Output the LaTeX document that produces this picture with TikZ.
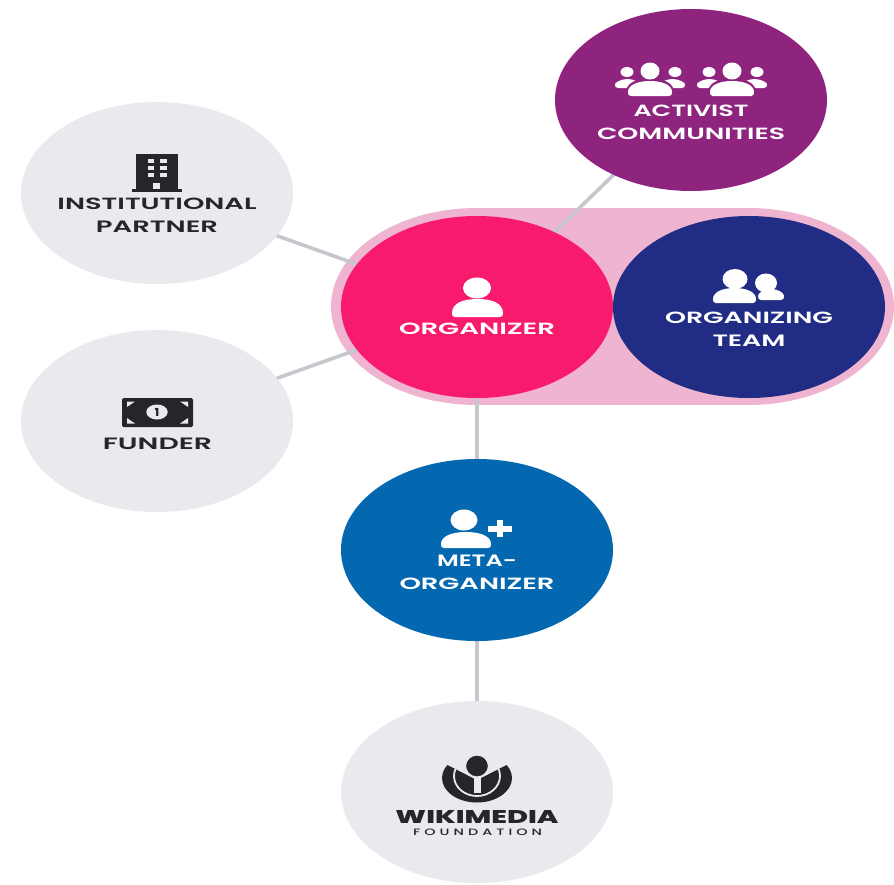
\documentclass[tikz,border=0pt]{standalone}
\usepackage{fontspec}
\setmainfont{Poppins}[BoldFont={Poppins SemiBold}]
\newfontfamily\spacedfont[LetterSpace=28]{Poppins Medium}
\newfontfamily\heavyfont{Poppins ExtraBold}
\usetikzlibrary{shapes.geometric}
\definecolor{pillpink}{HTML}{EFB4CF}
\definecolor{orgred}{HTML}{F81B6D}
\definecolor{teamblue}{HTML}{212D85}
\definecolor{purp}{HTML}{8F247F}
\definecolor{metablue}{HTML}{0468B0}
\definecolor{softgray}{HTML}{E9EAED}
\definecolor{linegray}{HTML}{C5C7CD}
\definecolor{inkdark}{HTML}{25262A}
\newcommand{\lbl}[2]{\resizebox{#1pt}{11.5pt}{\bfseries #2}}
\newcommand{\ibody}[5]{\fill[#5] ({#1+3},#4) .. controls ({#1+0.5},#4) and (#1,{#4-1.5}) .. (#1,{#4-4})
  .. controls (#1,{#3+4}) and ({#1+0.22*(#2-#1)},#3) .. ({(#1+#2)/2},#3)
  .. controls ({#2-0.22*(#2-#1)},#3) and (#2,{#3+4}) .. (#2,{#4-4})
  .. controls (#2,{#4-1.5}) and ({#2-0.5},#4) .. ({#2-3},#4) -- cycle;}
\newcommand{\ihead}[5]{\fill[#5] (#1,#2) ellipse [x radius=#3pt, y radius=#4pt];}
\tikzset{
  bubble/.style={ellipse,minimum width=272pt,minimum height=182pt,inner sep=0pt,draw=none},
  link/.style={draw=linegray,line width=3.6pt},
  lightlabel/.style={align=center,inner sep=0pt,text=white,font=\fontsize{11}{23}\selectfont},
  darklabel/.style={align=center,inner sep=0pt,text=inkdark,font=\fontsize{11}{23}\selectfont}
}
\begin{document}
\begin{tikzpicture}[x=1pt,y=-1pt]
\useasboundingbox (0,0) rectangle (894,884);
\fill[white] (0,0) rectangle (894,884);
% pill behind organizer and team
\fill[pillpink] (477,306.5) ellipse [x radius=146pt, y radius=98.5pt];
\fill[pillpink] (748,306.5) ellipse [x radius=146pt, y radius=98.5pt];
\fill[pillpink] (477,208) rectangle (748,405);
% named positions of the bubbles
\coordinate (cOrg) at (477,307);
\coordinate (cTeam) at (749,307);
\coordinate (cAct) at (691,100);
\coordinate (cInst) at (157,193);
\coordinate (cFund) at (157,421);
\coordinate (cMeta) at (477,550);
\coordinate (cWiki) at (477,792);
% connectors (bubbles are painted over their inner ends)
\draw[link] (cInst) -- (cOrg);
\draw[link] (cFund) -- (cOrg);
\draw[link] (cAct) -- (cOrg);
\draw[link] (cOrg) -- (cMeta);
\draw[link] (cMeta) -- (cWiki);
% bubbles
\node[bubble,fill=orgred] (org) at (cOrg) {};
\node[bubble,fill=teamblue] (team) at (cTeam) {};
\node[bubble,fill=purp] (act) at (cAct) {};
\node[bubble,fill=softgray] (inst) at (cInst) {};
\node[bubble,fill=softgray] (fund) at (cFund) {};
\node[bubble,fill=metablue] (meta) at (cMeta) {};
\node[bubble,fill=softgray] (wiki) at (cWiki) {};
% labels
\node[lightlabel] (tOrg) at (477,329) {\lbl{156}{ORGANIZER}};
\node[lightlabel] (tTeam) at (749,329.5) {\lbl{168}{ORGANIZING}\\\lbl{73}{TEAM}};
\node[lightlabel] (tAct) at (691,122.5) {\lbl{115}{ACTIVIST}\\\lbl{188}{COMMUNITIES}};
\node[darklabel] (tInst) at (157,215.5) {\lbl{199}{INSTITUTIONAL}\\\lbl{122}{PARTNER}};
\node[darklabel] (tFund) at (157.5,444) {\lbl{109}{FUNDER}};
\node[lightlabel] (tMeta) at (477,572.5) {\lbl{80}{META-}\\\lbl{155}{ORGANIZER}};
\node[inner sep=0pt,text=inkdark] (tWiki) at (477,816.5) {\resizebox{163pt}{13pt}{\heavyfont WIKIMEDIA}};
\node[inner sep=0pt,text=inkdark] (tFound) at (477.5,832.5) {\resizebox{129pt}{6.5pt}{\spacedfont FOUNDATION}};
% organizer icon
\ihead{477}{288}{14}{10.5}{white}
\ibody{452}{503}{299}{317}{white}
% team icon
\ihead{766}{283}{11}{9.5}{white}
\ibody{758}{784}{289}{300}{white}
\ibody{710.5}{758.5}{286}{305}{teamblue}
\ihead{735}{279}{12.5}{10}{white}
\ibody{713}{756}{288}{303}{white}
% activist icon (two groups)
\foreach \dx in {0,82}{
 \begin{scope}[xshift=\dx pt]
  \ihead{627}{72}{6.5}{5}{white}
  \ihead{675}{72}{6.5}{5}{white}
  \ibody{615}{640}{79}{88}{white}
  \ibody{660}{685}{79}{88}{white}
  \ibody{625.5}{674.5}{78.5}{98.5}{purp}
  \ihead{650}{71}{9.5}{8.5}{white}
  \ibody{628}{672}{81}{96}{white}
 \end{scope}
}
% meta-organizer icon
\ihead{464}{520}{13.5}{10.5}{white}
\ibody{441}{491}{532}{548}{white}
\fill[white] (488,525.5) rectangle (512,531.5);
\fill[white] (497,520) rectangle (503,537);
% building icon
\fill[inkdark] (136,154) rectangle (178,190);
\fill[inkdark] (132,189) rectangle (182,192);
\foreach \wy in {159,166,173}{
  \fill[softgray] (148,\wy) rectangle (154,{\wy+4});
  \fill[softgray] (160,\wy) rectangle (167,{\wy+4});
}
\fill[softgray] (153,183) rectangle (160,189);
% banknote icon
\fill[inkdark,rounded corners=1.5pt] (122,398) rectangle (193,427);
\fill[softgray] (127,401.5) -- (135,401.5) -- (127,407) -- cycle;
\fill[softgray] (188,401.5) -- (180,401.5) -- (188,407) -- cycle;
\fill[softgray] (127,423.5) -- (135,423.5) -- (127,418) -- cycle;
\fill[softgray] (188,423.5) -- (180,423.5) -- (188,418) -- cycle;
\node[ellipse,fill=softgray,minimum width=21.5pt,minimum height=15pt,inner sep=0pt,text=inkdark,font=\heavyfont\fontsize{11}{11}\selectfont] (one) at (157,412) {1};
% wikimedia logo
\fill[inkdark] (477,778) ellipse [x radius=35pt, y radius=24.5pt];
\draw[softgray,line width=1.8pt] (477,776) ellipse [x radius=23pt, y radius=20pt];
\fill[softgray] (477,780) -- (438,760) -- (438,745) -- (516,745) -- (516,760) -- cycle;
\fill[softgray] (473.5,772) rectangle (480.5,793);
\fill[inkdark,draw=softgray,line width=1.2pt] (477,766) ellipse [x radius=11.5pt, y radius=11pt];
\end{tikzpicture}
\end{document}
